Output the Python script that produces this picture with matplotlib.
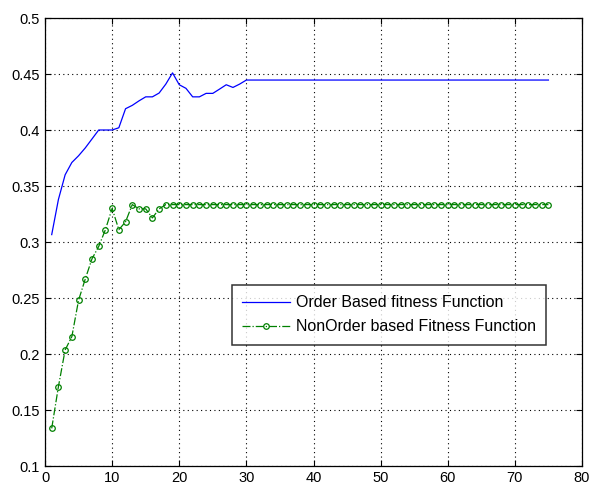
import matplotlib
matplotlib.use("Agg")
import matplotlib.pyplot as plt
import numpy as np

plt.rcParams['font.family'] = ['Liberation Sans', 'DejaVu Sans']

iterations = list(range(1, 76))

order_head = [0.3066, 0.338, 0.360, 0.371, 0.377, 0.384, 0.392, 0.400, 0.400, 0.400,
              0.402, 0.419, 0.422, 0.426, 0.4296, 0.4296, 0.433, 0.441, 0.451, 0.4404,
              0.4372, 0.4296, 0.4296, 0.4327, 0.4327, 0.4365, 0.4404, 0.438, 0.441, 0.4446]
order_tail_value = 0.4446
order_based = order_head + [order_tail_value] * (75 - len(order_head))

nonorder_head = [0.1336, 0.1709, 0.2036, 0.2155, 0.248, 0.267, 0.285, 0.296, 0.311, 0.330,
                 0.311, 0.318, 0.3334, 0.3296, 0.3296, 0.3215, 0.3296, 0.3334]
nonorder_tail_value = 0.3334
nonorder_based = nonorder_head + [nonorder_tail_value] * (75 - len(nonorder_head))

labels = ['Order Based fitness Function', 'NonOrder based Fitness Function']

fig = plt.figure(figsize=(5.93, 4.88), dpi=100)
ax = fig.add_axes([45/593, 1 - 466/488, (582 - 45)/593, (466 - 18)/488])

ax.plot(iterations, order_based, color='#0000ff', lw=0.9, label=labels[0])
ax.plot(iterations, nonorder_based, color='#008000', lw=0.9, linestyle='-.',
        marker='o', markersize=4, markerfacecolor='none', markeredgewidth=0.9,
        label=labels[1])

ax.set_xlim(0, 80)
ax.set_ylim(0.1, 0.5)
ax.set_xticks(np.arange(0, 81, 10))
ax.set_yticks(np.arange(0.1, 0.501, 0.05))
ax.set_yticklabels(['0.1', '0.15', '0.2', '0.25', '0.3', '0.35', '0.4', '0.45', '0.5'])
ax.grid(True, color='black', linestyle=(0, (1, 3)), linewidth=0.8)
ax.tick_params(direction='in', top=True, right=True, labelsize=10.5, length=4, colors='black')
for s in ax.spines.values():
    s.set_linewidth(0.9)

leg = ax.legend(loc='upper left', bbox_to_anchor=((232 - 45)/537, 1 - (285 - 18)/448),
                fontsize=11.5, frameon=True, fancybox=False, edgecolor='black',
                borderaxespad=0, handlelength=3.0, handletextpad=0.35,
                borderpad=0.65, labelspacing=0.55)
leg.get_frame().set_linewidth(1.1)

fig.savefig('out.png', dpi=100)
